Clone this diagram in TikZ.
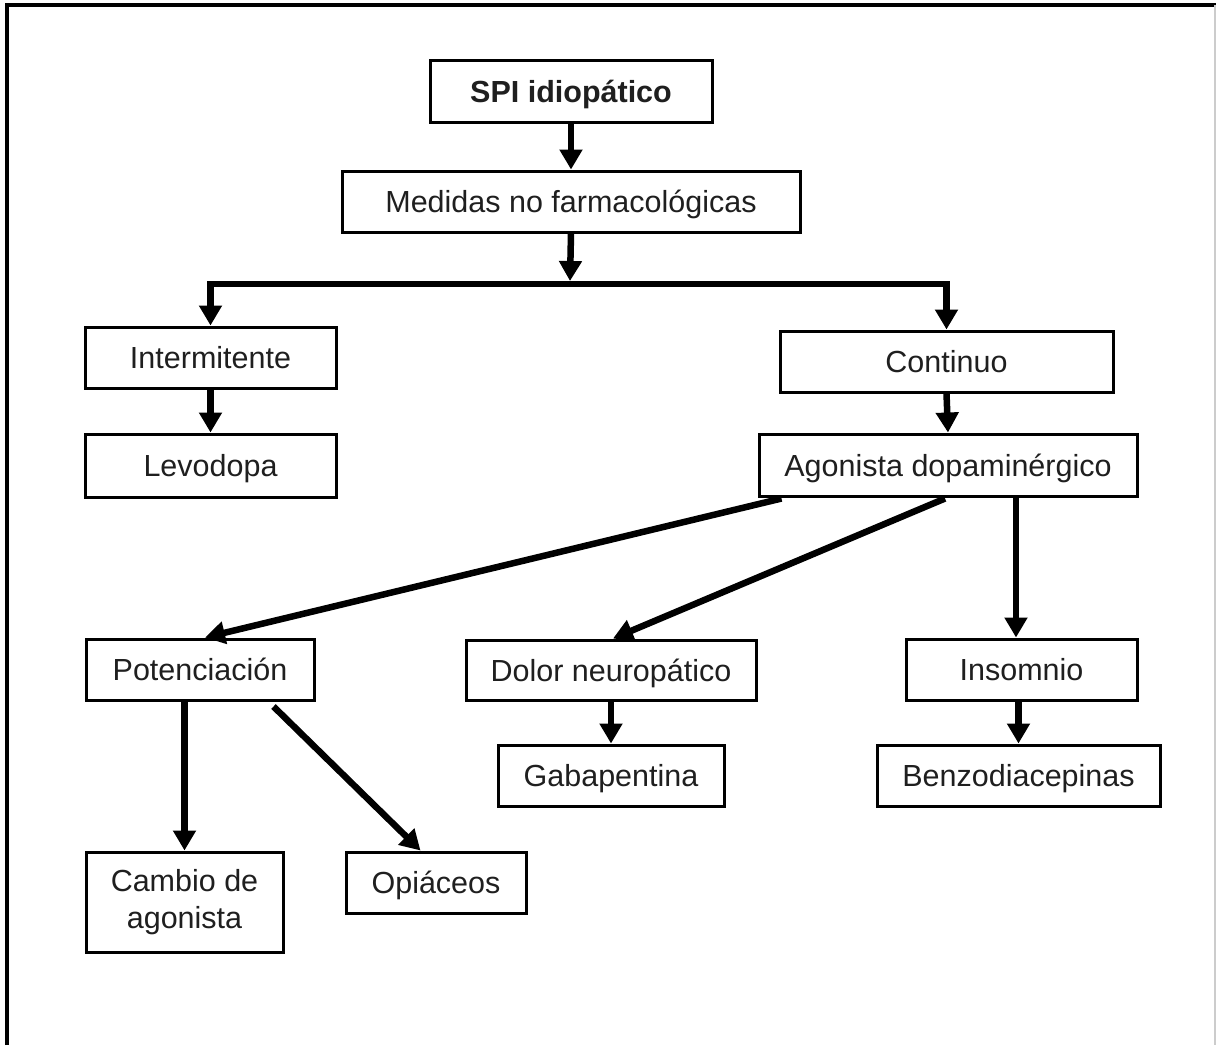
\documentclass[tikz,border=0pt]{standalone}
\usepackage{fontspec}
\setmainfont{Liberation Sans}
\usetikzlibrary{arrows.meta,calc}
\begin{document}
\begin{tikzpicture}[x=1pt,y=-1pt,
  box/.style={draw=black, line width=3pt, fill=white, inner sep=0pt,
    text=black!88, align=center, text height=22pt, text depth=0pt,
    font=\fontsize{30.5}{37}\selectfont},
  twoline/.style={text height=, text depth=},
  arr/.style={line width=6.5pt, draw=black,
    -{Triangle[width=22pt,length=20pt]}}]
\useasboundingbox (0,0) rectangle (1216,1045);
% outer frame
\draw[line width=3.5pt] (7,1045) -- (7,5) -- (1216,5);
\draw[line width=1.5pt, black!20] (1215,5) -- (1215,1045);

% boxes
\node[box, minimum width=282pt, minimum height=62pt, font=\fontsize{30.5}{37}\selectfont\bfseries] (spi) at (571,91) {SPI idiopático};
\node[box, minimum width=458pt, minimum height=61pt] (med) at (571,201.5) {Medidas no farmacológicas};
\node[box, minimum width=251pt, minimum height=61pt] (inter) at (210.5,357.5) {Intermitente};
\node[box, minimum width=251pt, minimum height=63pt] (levo) at (210.5,465.5) {Levodopa};
\node[box, minimum width=333pt, minimum height=61pt] (cont) at (946.5,361.5) {Continuo};
\node[box, minimum width=378pt, minimum height=62pt] (agon) at (948,465) {Agonista dopaminérgico};
\node[box, minimum width=228pt, minimum height=61pt] (pot) at (200,669.5) {Potenciación};
\node[box, minimum width=290pt, minimum height=60pt] (dolor) at (611,670) {Dolor neuropático};
\node[box, minimum width=231pt, minimum height=61pt] (insom) at (1021.5,669.5) {Insomnio};
\node[box, minimum width=226pt, minimum height=61pt] (gaba) at (611,775.5) {Gabapentina};
\node[box, minimum width=283pt, minimum height=61pt] (benzo) at (1018.5,775.5) {Benzodiacepinas};
\node[box, twoline, minimum width=197pt, minimum height=100pt] (cambio) at (184.5,902) {Cambio de\\agonista};
\node[box, minimum width=180pt, minimum height=61pt] (opi) at (436,882.5) {Opiáceos};

% connectors
\coordinate (split) at (570,284);
\draw[arr] (spi.south) -- (med.north);
\draw[arr] (med.south) -- ($(split)+(0,-3)$);
\draw[arr] (split) -| (inter.north);
\draw[arr] (split) -| (cont.north);
\draw[arr] (inter.south) -- (inter.south |- levo.north);
\draw[arr] (cont.south) -- (agon.north);

\coordinate (aP) at ($(agon.south west)+(24,1)$);
\coordinate (aD) at ($(agon.south)+(-3,1)$);
\coordinate (aI) at ($(agon.south)+(68,0)$);
\draw[arr] (aP) -- ($(pot.north)+(5,0)$);
\draw[arr] (aD) -- ($(dolor.north)+(2,0)$);
\draw[arr] (aI) -- (aI |- insom.north);

\draw[arr] (dolor.south) -- (gaba.north);
\draw[arr] (benzo.north |- insom.south) -- (benzo.north);
\draw[arr] (cambio.north |- pot.south) -- (cambio.north);
\draw[arr] ($(pot.south east)+(-42,5)$) -- ($(opi.north west)+(76,0)$);
\end{tikzpicture}
\end{document}
